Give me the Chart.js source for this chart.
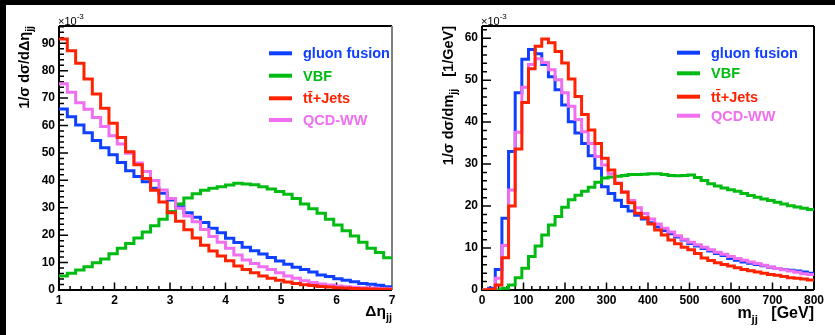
<!DOCTYPE html>
<html>
<head>
<meta charset="utf-8">
<script src="https://cdn.jsdelivr.net/npm/chart.js@4.4.1/dist/chart.umd.min.js"></script>
<style>
  html, body { margin: 0; padding: 0; background: #000; }
  body { width: 835px; height: 335px; position: relative; overflow: hidden; }
  .panel { position: absolute; top: 5px; height: 330px; background: #fff; }
  #pl { left: 6px; width: 407px; }
  #pr { left: 413px; width: 422px; }
  canvas { display: block; }
</style>
</head>
<body>
<div class="panel" id="pl"><canvas id="cl" width="407" height="330"></canvas></div>
<div class="panel" id="pr"><canvas id="cr" width="422" height="330"></canvas></div>
<script>
// series, in units of 1e-3 per bin
const seriesNames = ['gluon fusion', 'VBF', 't\u0074\u0304+Jets', 'QCD-WW'];
const seriesColors = ['#1040ff', '#00bb11', '#ff2200', '#f06ef0'];
const drawOrder = [4, 3, 1, 2]; // lower = drawn on top

// delta eta_jj, 40 bins from 1 to 7
const etaRange = [1, 7];
const etaGluon = [66.0, 63.2, 60.2, 57.4, 54.5, 51.9, 49.3, 46.5, 43.5, 41.4,
  39.5, 37.1, 35.3, 32.8, 30.4, 28.2, 26.5, 24.6, 22.5, 20.9,
  18.9, 17.3, 15.6, 14.3, 13.1, 11.9, 10.6, 9.4, 8.3, 7.5,
  6.6, 5.5, 4.9, 4.1, 3.6, 3.0, 2.4, 2.1, 1.7, 1.2];
const etaVBF = [5.1, 6.1, 7.3, 8.5, 9.9, 11.3, 13.2, 15.2, 17.0, 19.0,
  21.2, 23.4, 25.8, 28.6, 31.4, 33.6, 35.1, 36.4, 37.1, 37.7,
  38.3, 38.9, 38.7, 38.4, 37.7, 36.8, 35.9, 34.9, 33.4, 31.4,
  29.6, 28.0, 25.8, 23.7, 21.6, 19.7, 17.4, 15.2, 13.7, 11.8];
const etaTT = [91.6, 87.3, 82.7, 77.0, 71.5, 66.3, 60.8, 55.6, 50.4, 45.7,
  40.7, 36.4, 32.1, 28.2, 25.1, 22.0, 19.0, 16.3, 14.2, 12.4,
  10.7, 8.8, 7.5, 6.3, 5.1, 4.3, 3.6, 2.9, 2.4, 1.9,
  1.6, 1.3, 1.1, 0.85, 0.7, 0.55, 0.45, 0.35, 0.3, 0.25];
const etaQCD = [75.2, 72.1, 68.3, 65.9, 62.9, 59.6, 56.3, 53.3, 49.9, 46.3,
  43.2, 39.9, 36.5, 33.4, 29.8, 27.0, 24.9, 22.1, 19.5, 17.4,
  15.2, 12.8, 10.9, 9.7, 8.5, 7.5, 6.3, 5.1, 4.3, 3.4,
  2.7, 2.2, 1.8, 1.5, 1.2, 1.0, 0.85, 0.7, 0.55, 0.45];

// m_jj, 50 bins from 0 to 800 GeV
const mjjRange = [0, 800];
const mjjGluon = [0, 0.4, 4.9, 17.1, 33.0, 47.0, 55.0, 57.3, 56.3, 53.7,
  50.8, 47.7, 44.1, 40.1, 37.4, 34.9, 32.0, 29.0, 24.6, 23.0,
  21.4, 19.9, 18.8, 17.8, 16.9, 16.0, 15.0, 14.2, 13.4, 12.6,
  11.9, 11.1, 10.5, 9.9, 9.3, 8.7, 8.2, 7.5, 7.1, 6.7,
  6.4, 6.1, 5.8, 5.4, 5.1, 4.9, 4.7, 4.5, 4.3, 4.0];
const mjjVBF = [0, 0, 0, 0.4, 1.2, 2.9, 5.2, 8.0, 10.5, 13.1,
  15.5, 17.5, 19.7, 21.5, 22.6, 23.5, 24.5, 25.7, 26.7, 26.9,
  27.1, 27.3, 27.5, 27.5, 27.6, 27.7, 27.7, 27.5, 27.3, 27.2,
  27.3, 27.4, 26.8, 26.1, 25.3, 24.8, 24.3, 23.9, 23.5, 23.0,
  22.5, 22.1, 21.7, 21.3, 20.9, 20.5, 20.1, 19.8, 19.5, 19.2];
const mjjTT = [0, 0.2, 1.2, 7.7, 20.0, 33.6, 44.7, 52.7, 58.1, 59.8,
  58.9, 56.8, 54.1, 50.3, 46.1, 41.8, 38.1, 34.9, 31.4, 28.6,
  25.4, 23.3, 20.8, 18.3, 17.2, 15.7, 14.3, 13.1, 11.9, 11.0,
  10.2, 9.6, 8.7, 7.6, 7.0, 6.5, 6.1, 5.7, 5.3, 4.9,
  4.6, 4.3, 4.0, 3.7, 3.5, 3.2, 2.9, 2.8, 2.6, 2.4];
const mjjQCD = [0, 0.1, 2.8, 10.6, 23.8, 37.6, 48.3, 53.7, 55.1, 54.2,
  52.5, 50.1, 47.0, 43.8, 40.6, 37.7, 34.9, 31.8, 29.8, 27.7,
  25.5, 23.4, 21.3, 19.6, 18.2, 16.9, 15.7, 14.7, 13.8, 12.9,
  12.1, 11.4, 10.8, 10.2, 9.6, 9.0, 8.5, 8.0, 7.5, 7.1,
  6.7, 6.3, 5.9, 5.5, 5.1, 4.8, 4.5, 4.2, 3.9, 3.7];

const FONT = '"Liberation Sans", Arial, Helvetica, sans-serif';

// bin contents -> step points at the low edges plus the last high edge
function histPoints(values, range) {
  const w = (range[1] - range[0]) / values.length;
  const pts = values.map((v, i) => ({ x: range[0] + i * w, y: v }));
  pts.push({ x: range[1], y: values[values.length - 1] });
  return pts;
}

function drawRich(ctx, parts, x, y, alignRight) {
  let total = 0;
  parts.forEach(p => {
    ctx.font = (p.bold === false ? '' : 'bold ') + p.size + 'px ' + FONT;
    p.w = ctx.measureText(p.t).width;
    total += p.w;
  });
  let cx = alignRight ? x - total : x;
  parts.forEach(p => {
    ctx.font = (p.bold === false ? '' : 'bold ') + p.size + 'px ' + FONT;
    ctx.fillText(p.t, cx, y + (p.dy || 0));
    cx += p.w;
  });
}

const rootFrame = {
  id: 'rootFrame',
  beforeDatasetsDraw(chart, args, o) {
    const { ctx, chartArea: a, scales: { x, y } } = chart;
    ctx.save();
    ctx.strokeStyle = '#000';
    ctx.lineWidth = 1.5;
    ctx.beginPath();
    let n = Math.round((y.max - y.min) / o.yMinor);
    for (let i = 0; i <= n; i++) {
      const v = y.min + i * o.yMinor;
      if (v > y.max) break;
      const major = Math.abs(v / o.yMajor - Math.round(v / o.yMajor)) < 1e-6;
      const py = y.getPixelForValue(v);
      ctx.moveTo(a.left, py);
      ctx.lineTo(a.left + (major ? 9 : 5), py);
    }
    n = Math.round((x.max - x.min) / o.xMinor);
    for (let i = 0; i <= n; i++) {
      const v = x.min + i * o.xMinor;
      const major = Math.abs(v / o.xMajor - Math.round(v / o.xMajor)) < 1e-6;
      const px = x.getPixelForValue(v);
      ctx.moveTo(px, a.bottom);
      ctx.lineTo(px, a.bottom - (major ? 7.5 : 4));
    }
    ctx.stroke();

    // frame
    ctx.lineWidth = 2;
    ctx.beginPath();
    ctx.moveTo(a.left, a.top);
    ctx.lineTo(a.left, a.bottom);
    ctx.lineTo(a.right, a.bottom);
    ctx.moveTo(a.left, a.top);
    ctx.lineTo(a.right, a.top);
    ctx.stroke();
    ctx.strokeStyle = o.rightColor;
    ctx.beginPath();
    ctx.moveTo(a.right, a.top);
    ctx.lineTo(a.right, a.bottom);
    ctx.stroke();
    ctx.restore();
  },
  afterDraw(chart, args, o) {
    const { ctx, chartArea: a } = chart;
    ctx.save();
    ctx.fillStyle = '#000';
    ctx.textBaseline = 'alphabetic';
    // exponent
    drawRich(ctx, [{ t: '\u00d710', size: 11, bold: false }, { t: '-3', size: 8, dy: -6, bold: false }],
      a.left - 1, a.top - 1, false);
    // x title
    drawRich(ctx, o.xTitle, a.right, a.bottom + o.xTitleDy, true);
    // y title, rotated, ending at the top of the frame
    ctx.translate(o.yTitleX, a.top);
    ctx.rotate(-Math.PI / 2);
    drawRich(ctx, o.yTitle, 0, 0, true);
    ctx.setTransform(1, 0, 0, 1, 0, 0);
    // legend
    ctx.textBaseline = 'middle';
    seriesNames.forEach((name, k) => {
      const ly = o.legendY[k];
      ctx.strokeStyle = seriesColors[k];
      ctx.lineWidth = 4;
      ctx.beginPath();
      ctx.moveTo(o.legendX, ly);
      ctx.lineTo(o.legendX + 23, ly);
      ctx.stroke();
      ctx.fillStyle = seriesColors[k];
      ctx.font = 'bold 14.5px ' + FONT;
      ctx.fillText(name, o.legendX + 34, ly + 1);
    });
    ctx.restore();
  }
};

function makeChart(id, cfg) {
  const tickFont = { family: FONT, size: 12, weight: 'bold' };
  return new Chart(document.getElementById(id), {
    type: 'line',
    data: {
      datasets: cfg.series.map((vals, k) => ({
        label: seriesNames[k],
        data: histPoints(vals, cfg.range),
        borderColor: seriesColors[k],
        borderWidth: 3,
        borderJoinStyle: 'miter',
        stepped: true,
        pointRadius: 0,
        fill: false,
        order: drawOrder[k]
      }))
    },
    options: {
      responsive: false,
      animation: false,
      events: [],
      layout: { padding: { left: 0, right: cfg.padRight, top: 21, bottom: 0 } },
      plugins: {
        legend: { display: false },
        tooltip: { enabled: false },
        rootFrame: cfg.frame
      },
      scales: {
        x: {
          type: 'linear', min: cfg.range[0], max: cfg.range[1],
          grid: { display: false, drawTicks: false },
          border: { display: false },
          ticks: { stepSize: cfg.xStep, padding: 3, color: '#000', font: tickFont,
                   maxRotation: 0, autoSkip: false, includeBounds: false },
          afterFit: s => { s.height = 45; }
        },
        y: {
          type: 'linear', min: 0, max: cfg.yMax,
          grid: { display: false, drawTicks: false },
          border: { display: false },
          ticks: { stepSize: 10, padding: 4, color: '#000', font: tickFont, includeBounds: false },
          afterFit: s => { s.width = cfg.yWidth; }
        }
      }
    },
    plugins: [rootFrame]
  });
}

makeChart('cl', {
  series: [etaGluon, etaVBF, etaTT, etaQCD],
  range: etaRange, xStep: 1, yMax: 96.3, yWidth: 53, padRight: 21,
  frame: {
    yMinor: 2, yMajor: 10, xMinor: 0.2, xMajor: 1, rightColor: '#808080',
    xTitle: [{ t: '\u0394\u03b7', size: 15.5 }, { t: 'jj', size: 11, dy: 5 }],
    xTitleDy: 26,
    yTitle: [{ t: '1/\u03c3 d\u03c3/d\u0394\u03b7', size: 14.5 }, { t: 'jj', size: 10.5, dy: 4 }],
    yTitleX: 23,
    legendX: 263, legendY: [48.3, 70.7, 93.3, 115]
  }
});

makeChart('cr', {
  series: [mjjGluon, mjjVBF, mjjTT, mjjQCD],
  range: mjjRange, xStep: 100, yMax: 62.9, yWidth: 69, padRight: 21,
  frame: {
    yMinor: 2, yMajor: 10, xMinor: 20, xMajor: 100, rightColor: '#000',
    xTitle: [{ t: 'm', size: 16 }, { t: 'jj', size: 11.5, dy: 5 }, { t: '   [GeV]', size: 16 }],
    xTitleDy: 28,
    yTitle: [{ t: '1/\u03c3 d\u03c3/dm', size: 14.5 }, { t: 'jj', size: 10.5, dy: 4 }, { t: '   [1/GeV]', size: 14.5 }],
    yTitleX: 40,
    legendX: 264, legendY: [47.7, 68.3, 91.7, 110.7]
  }
});
</script>
</body>
</html>
